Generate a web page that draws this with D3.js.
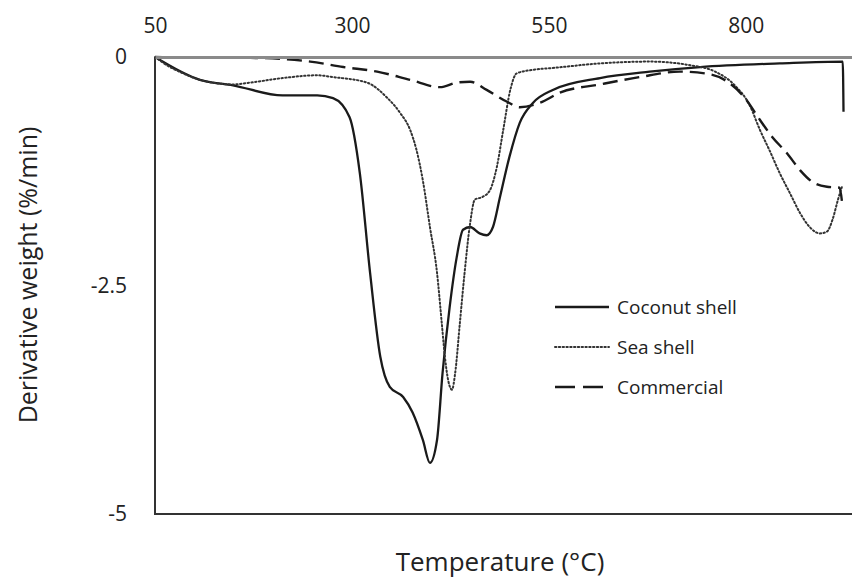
<!DOCTYPE html>
<html>
<head>
<meta charset="utf-8">
<script src="https://cdn.jsdelivr.net/npm/d3@7"></script>
<style>
  body { margin: 0; background: #fff; }
  svg { display: block; font-family: 'Open Sans', 'DejaVu Sans', sans-serif; }
</style>
</head>
<body>
<div id="vis"></div>
<script>
// Values (temperature in degrees C, derivative weight in %/min)
var tempCoconut = [50, 107, 149, 212, 256, 276, 297, 310, 323, 336, 348, 365, 377, 390, 399, 408, 415, 424, 433, 441, 450, 462, 471, 479, 488, 500, 513, 530, 555, 615, 678, 742, 843, 923, 924];
var dtgCoconut = [0, -0.25, -0.31, -0.42, -0.42, -0.45, -0.66, -1.27, -2.36, -3.28, -3.61, -3.72, -3.89, -4.19, -4.44, -4.19, -3.46, -2.74, -2.19, -1.89, -1.86, -1.93, -1.95, -1.86, -1.53, -1.09, -0.72, -0.50, -0.36, -0.23, -0.16, -0.11, -0.07, -0.05, -0.60];

var tempSeaShell = [50, 69, 86, 107, 149, 171, 212, 256, 276, 319, 344, 361, 374, 382, 390, 399, 408, 414, 418, 422, 427, 431, 437, 443, 450, 456, 466, 475, 484, 492, 501, 509, 530, 555, 615, 678, 729, 761, 786, 805, 818, 830, 843, 856, 869, 881, 894, 903, 910, 917, 922];
var dtgSeaShell = [0, -0.11, -0.18, -0.25, -0.30, -0.28, -0.23, -0.20, -0.22, -0.28, -0.44, -0.61, -0.80, -1.02, -1.35, -1.86, -2.36, -2.91, -3.28, -3.53, -3.64, -3.46, -2.91, -2.36, -1.82, -1.56, -1.53, -1.46, -1.20, -0.80, -0.36, -0.18, -0.14, -0.12, -0.07, -0.05, -0.09, -0.16, -0.31, -0.53, -0.80, -1.02, -1.27, -1.49, -1.71, -1.86, -1.93, -1.91, -1.78, -1.56, -1.42];

var tempCommercial = [50, 107, 171, 247, 289, 332, 374, 412, 433, 450, 471, 497, 513, 539, 564, 615, 665, 716, 748, 773, 799, 818, 834, 852, 869, 885, 903, 919, 922];
var dtgCommercial = [0, -0.01, -0.01, -0.05, -0.11, -0.16, -0.25, -0.33, -0.28, -0.27, -0.36, -0.49, -0.55, -0.50, -0.39, -0.30, -0.22, -0.16, -0.18, -0.25, -0.45, -0.69, -0.88, -1.05, -1.24, -1.37, -1.42, -1.43, -1.58];

var seriesNames = ['Coconut shell', 'Sea shell', 'Commercial'];
var xTicks = [50, 300, 550, 800];
var yTicks = [0, -2.5, -5];

// Sizing
var width = 852;
var height = 579;
var plot = { left: 155, top: 57, right: 864, bottom: 514 };

var x = d3.scaleLinear().domain([50, 950]).range([plot.left, plot.right]);
var y = d3.scaleLinear().domain([0, -5]).range([plot.top, plot.bottom]);

// line styles for each series
var styles = {
  'Coconut shell': { stroke: '#1a1a1a', width: 2.3, dash: null },
  'Sea shell': { stroke: '#333', width: 2, dash: '1.4,2.4' },
  'Commercial': { stroke: '#1a1a1a', width: 2.4, dash: '15,7' }
};

function zipSeries(ts, vs) {
  return ts.map(function (t, i) { return { t: t, v: vs[i] }; });
}

var series = [
  { name: 'Coconut shell', values: zipSeries(tempCoconut, dtgCoconut) },
  { name: 'Sea shell', values: zipSeries(tempSeaShell, dtgSeaShell) },
  { name: 'Commercial', values: zipSeries(tempCommercial, dtgCommercial) }
];

var svg = d3.select('#vis')
  .append('svg')
  .attr('width', width)
  .attr('height', height);

// plot area border (left and bottom)
svg.append('path')
  .attr('d', 'M' + plot.left + ',' + plot.top + 'V' + plot.bottom + 'H' + plot.right)
  .attr('fill', 'none')
  .attr('stroke', '#333')
  .attr('stroke-width', 2);

// curves
var line = d3.line()
  .x(function (d) { return x(d.t); })
  .y(function (d) { return y(d.v); })
  .curve(d3.curveMonotoneX);

svg.selectAll('.curve')
  .data(series)
  .enter().append('path')
  .attr('class', 'curve')
  .attr('fill', 'none')
  .attr('d', function (d) { return line(d.values); })
  .attr('stroke', function (d) { return styles[d.name].stroke; })
  .attr('stroke-width', function (d) { return styles[d.name].width; })
  .attr('stroke-dasharray', function (d) { return styles[d.name].dash; })
  .attr('stroke-linecap', function (d) { return d.name === 'Sea shell' ? 'round' : 'butt'; })
  .attr('stroke-linejoin', 'round');

// x axis sits on the zero line at the top
var xAxis = d3.axisTop(x).tickValues(xTicks).tickSize(0).tickPadding(24);
var gx = svg.append('g')
  .attr('transform', 'translate(0,' + y(0) + ')')
  .call(xAxis);
gx.select('.domain').attr('stroke', '#8a8a8a').attr('stroke-width', 3);
gx.selectAll('text')
  .attr('font-size', 21)
  .attr('font-family', "'Open Sans', sans-serif")
  .attr('fill', '#222');

var yAxis = d3.axisLeft(y).tickValues(yTicks).tickSize(0).tickPadding(28)
  .tickFormat(function (d) { return d === 0 ? '0' : String(d); });
var gy = svg.append('g')
  .attr('transform', 'translate(' + plot.left + ',0)')
  .call(yAxis);
gy.select('.domain').remove();
gy.selectAll('text')
  .attr('font-size', 21)
  .attr('font-family', "'Open Sans', sans-serif")
  .attr('fill', '#222');

// axis titles
svg.append('text')
  .attr('x', 500)
  .attr('y', 571)
  .attr('text-anchor', 'middle')
  .attr('font-size', 26)
  .attr('fill', '#222')
  .text('Temperature (°C)');

svg.append('text')
  .attr('transform', 'translate(37,275) rotate(-90)')
  .attr('text-anchor', 'middle')
  .attr('font-size', 25)
  .attr('fill', '#222')
  .text('Derivative weight (%/min)');

// legend
var legend = svg.selectAll('.legend')
  .data(seriesNames)
  .enter().append('g')
  .attr('class', 'legend')
  .attr('transform', function (d, i) { return 'translate(555,' + (307 + i * 40) + ')'; });

legend.append('line')
  .attr('x1', 0)
  .attr('x2', 54)
  .attr('stroke', function (d) { return styles[d].stroke; })
  .attr('stroke-width', function (d) { return styles[d].width; })
  .attr('stroke-dasharray', function (d) { return d === 'Commercial' ? '20,8' : styles[d].dash; })
  .attr('stroke-linecap', function (d) { return d === 'Sea shell' ? 'round' : 'butt'; });

legend.append('text')
  .attr('x', 62)
  .attr('dy', '0.35em')
  .attr('font-size', 19)
  .attr('fill', '#222')
  .text(function (d) { return d; });
</script>
</body>
</html>
